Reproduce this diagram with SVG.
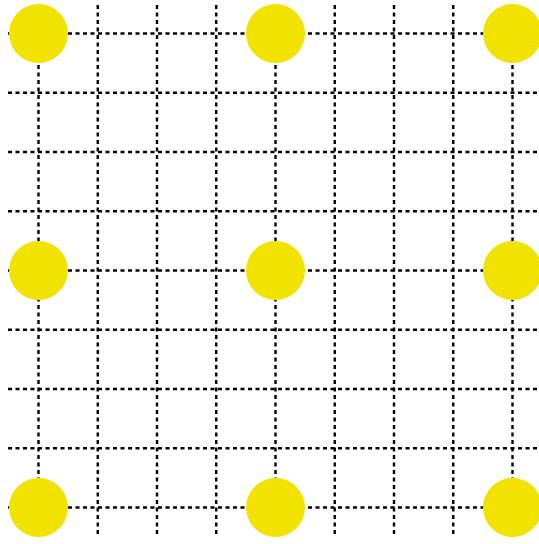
<svg xmlns="http://www.w3.org/2000/svg" width="539" height="544" viewBox="0 0 539 544">
<style>
.g{stroke:#000;stroke-width:2.4;stroke-dasharray:4 3.5;fill:none}
.n{fill:#f2e200}
</style>
<rect width="539" height="544" fill="#fff"/>
<g id="grid" class="g">
<line x1="38.5" y1="5" x2="38.5" y2="537"/>
<line x1="97.75" y1="5" x2="97.75" y2="537"/>
<line x1="157" y1="5" x2="157" y2="537"/>
<line x1="216.25" y1="5" x2="216.25" y2="537"/>
<line x1="275.5" y1="5" x2="275.5" y2="537"/>
<line x1="334.75" y1="5" x2="334.75" y2="537"/>
<line x1="394" y1="5" x2="394" y2="537"/>
<line x1="453.25" y1="5" x2="453.25" y2="537"/>
<line x1="512.5" y1="5" x2="512.5" y2="537"/>
<line x1="8" y1="33.5" x2="539" y2="33.5"/>
<line x1="8" y1="92.75" x2="539" y2="92.75"/>
<line x1="8" y1="152" x2="539" y2="152"/>
<line x1="8" y1="211.25" x2="539" y2="211.25"/>
<line x1="8" y1="270.5" x2="539" y2="270.5"/>
<line x1="8" y1="329.75" x2="539" y2="329.75"/>
<line x1="8" y1="389" x2="539" y2="389"/>
<line x1="8" y1="448.25" x2="539" y2="448.25"/>
<line x1="8" y1="507.5" x2="539" y2="507.5"/>
</g>
<g id="n11"><circle class="n" cx="38.5" cy="33.5" r="29.5"/></g>
<g id="n12"><circle class="n" cx="275.5" cy="33.5" r="29.5"/></g>
<g id="n13"><circle class="n" cx="512.5" cy="33.5" r="29.5"/></g>
<g id="n21"><circle class="n" cx="38.5" cy="270.5" r="29.5"/></g>
<g id="n22"><circle class="n" cx="275.5" cy="270.5" r="29.5"/></g>
<g id="n23"><circle class="n" cx="512.5" cy="270.5" r="29.5"/></g>
<g id="n31"><circle class="n" cx="38.5" cy="507.5" r="29.5"/></g>
<g id="n32"><circle class="n" cx="275.5" cy="507.5" r="29.5"/></g>
<g id="n33"><circle class="n" cx="512.5" cy="507.5" r="29.5"/></g>
</svg>
